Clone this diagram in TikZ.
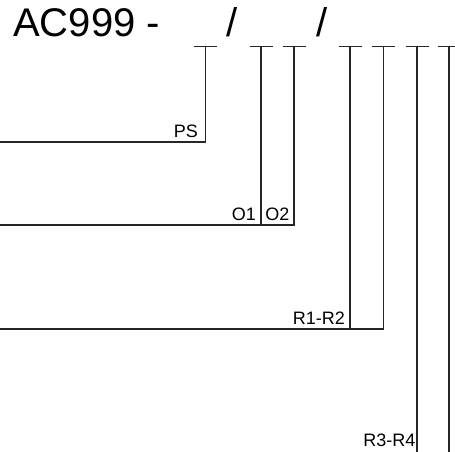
\documentclass[tikz,border=0pt]{standalone}
\usepackage{fontspec}
\setmainfont{Liberation Sans}
\begin{document}
\begin{tikzpicture}[x=1pt,y=-1pt,
  wire/.style={line width=1.1pt,draw=black!85},
  title/.style={inner sep=0pt,font=\fontsize{40}{48}\selectfont},
  lbl/.style={inner sep=0pt,anchor=base east,font=\fontsize{18}{21}\selectfont}]
\useasboundingbox (0,0) rectangle (455,452);
\clip (0,0) rectangle (455,452);
% title text
\node[title,anchor=base west] (t) at (13,37) {AC999 -};
\node[title,anchor=base] (s1) at (232.5,37) {/};
\node[title,anchor=base] (s2) at (322,37) {/};
% underscore tops
\foreach \n/\x in {ps/205.5,o1/261,o2/294,r1/350,r2/383.5,r3/417,r4/449}{
  \coordinate (\n) at (\x,46.5);
  \draw[wire] ([xshift=-11.5pt]\n) -- ([xshift=11.5pt]\n);
}
% bottom corners
\coordinate (psb) at (205.5,142);
\coordinate (pse) at (0,142);
\coordinate (o1b) at (261,225);
\coordinate (o2b) at (294,225);
\coordinate (oe) at (0,225);
\coordinate (r1b) at (350,329);
\coordinate (r2b) at (383.5,329);
\coordinate (re) at (0,329);
\coordinate (r3b) at (417,452);
\coordinate (r4b) at (449,452);
% connectors
\draw[wire] (ps) -- (psb) -- (pse);
\draw[wire] (o1) -- (o1b) -- (oe);
\draw[wire] (o2) -- (o2b) -- (o1b);
\draw[wire] (r1) -- (r1b) -- (re);
\draw[wire] (r2) -- (r2b) -- (r1b);
\draw[wire] (r3) -- (r3b);
\draw[wire] (r4) -- (r4b);
% labels
\node[lbl] (lps) at (198,137) {PS};
\node[lbl] (lo1) at (256,220) {O1};
\node[lbl] (lo2) at (289.5,220) {O2};
\node[lbl] (lr12) at (345,324) {R1-R2};
\node[lbl] (lr34) at (415.5,446) {R3-R4};
\end{tikzpicture}
\end{document}
